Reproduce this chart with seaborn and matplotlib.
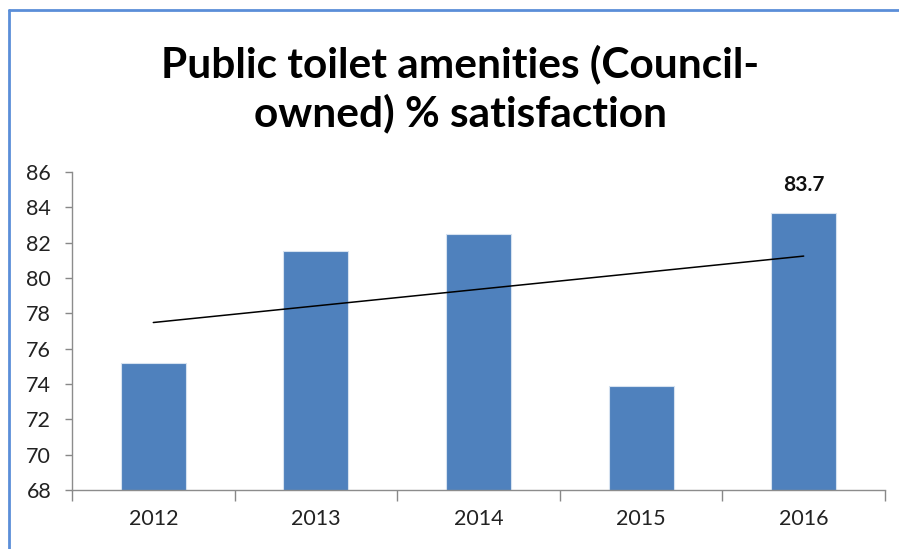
import matplotlib
matplotlib.use("Agg")
import matplotlib.pyplot as plt
from matplotlib.lines import Line2D
import numpy as np
import pandas as pd
import seaborn as sns

years = ["2012", "2013", "2014", "2015", "2016"]
satisfaction = [75.2, 81.5, 82.5, 73.9, 83.7]
y_ticks = [68, 70, 72, 74, 76, 78, 80, 82, 84, 86]

sns.set_theme(style="white")
plt.rcParams["font.family"] = ["Lato", "DejaVu Sans"]

df = pd.DataFrame({"year": years, "pct": satisfaction})

fig = plt.figure(figsize=(8.99, 5.49), dpi=100)
ax = fig.add_axes([0.0801, 0.1075, 0.9043, 0.5792])

sns.barplot(data=df, x="year", y="pct", color="#4F81BD", saturation=1,
            width=0.4, edgecolor="#D6E2F0", linewidth=0.8, ax=ax)

# linear trend across the five years
xs = np.arange(len(satisfaction))
slope, intercept = np.polyfit(xs, satisfaction, 1)
ax.plot(xs, slope * xs + intercept, color="black", lw=1.1, zorder=5)

# value label on the latest year
ax.text(xs[-1], satisfaction[-1] + 1.0, f"{satisfaction[-1]:.1f}",
        ha="center", va="bottom", fontsize=15, fontweight="bold", color="#111111")

ax.set_ylim(68, 86)
ax.set_yticks(y_ticks)
ax.set_xlim(-0.5, len(years) - 0.5)
ax.set_xticks(xs)
ax.set_xticklabels(years)
ax.set_xticks(np.arange(len(years) + 1) - 0.5, minor=True)
ax.tick_params(axis="x", which="major", length=0, pad=14, labelsize=15.5, labelcolor="#222222")
ax.tick_params(axis="x", which="minor", length=8, width=1, color="#888888", bottom=True)
ax.tick_params(axis="y", length=5, width=1, color="#888888", pad=10, labelsize=15.5,
               labelcolor="#222222", left=True)
ax.set_xlabel("")
ax.set_ylabel("")
for side in ("top", "right"):
    ax.spines[side].set_visible(False)
for side in ("left", "bottom"):
    ax.spines[side].set_color("#8C8C8C")
    ax.spines[side].set_linewidth(1)

fig.text(0.512, 0.838, "Public toilet amenities (Council-\nowned) % satisfaction",
         ha="center", va="center", fontsize=30.5, fontweight="bold",
         linespacing=1.3, color="black")

# chart frame (left and top edges)
frame_color = "#5B8ED8"
fig.add_artist(Line2D([0.0095, 0.0095], [0.0, 0.982], color=frame_color, lw=2,
                      transform=fig.transFigure))
fig.add_artist(Line2D([0.0095, 1.0], [0.982, 0.982], color=frame_color, lw=2,
                      transform=fig.transFigure))

fig.savefig("out.png", dpi=100, facecolor="white")
